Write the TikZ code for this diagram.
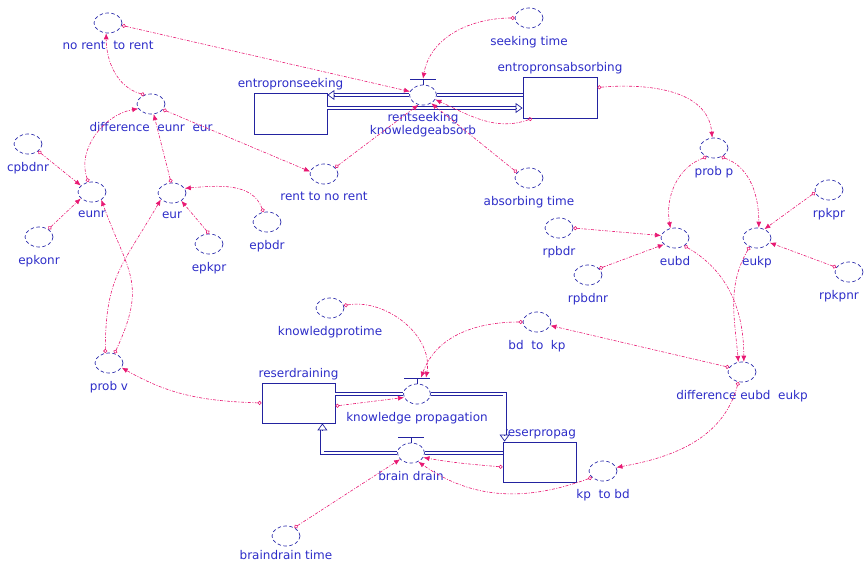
\documentclass[tikz,border=0pt]{standalone}
\usepackage{fontspec}
\setmainfont{DejaVu Sans}
\usepackage{xcolor}
\usepackage{tikz}
\usetikzlibrary{shapes.geometric, arrows.meta, calc}

\definecolor{txtblue}{RGB}{45,45,200}
\definecolor{boxblue}{RGB}{35,35,160}
\definecolor{auxblue}{RGB}{40,40,170}
\definecolor{linkpink}{RGB}{232,25,115}

\begin{document}
\begin{tikzpicture}[x=1pt, y=1pt, >=Latex]
        \tikzstyle{lbl} = [text=txtblue, font=\fontsize{12}{12.5}\selectfont, inner sep=0pt, align=center]
        \tikzstyle{auxlbl} = [lbl, yshift=-8pt]
        \tikzstyle{stocklbl} = [lbl, yshift=2.5pt]
        \tikzstyle{aux} = [ellipse, draw=auxblue, dash pattern=on 3.5pt off 2.5pt, line width=0.7pt, fill=white, minimum width=28pt, minimum height=20pt, inner sep=0pt]
        \tikzstyle{valve} = [aux, minimum width=27pt]
        \tikzstyle{stock} = [draw=boxblue, rectangle, line width=0.8pt, fill=white, minimum width=73pt, minimum height=40pt, inner sep=0pt]
        \tikzstyle{pipe} = [draw=boxblue, line width=0.7pt, double=white, double distance=2.5pt]
        \tikzstyle{pipetip} = [draw=boxblue, line width=0.7pt, -{Triangle[open, length=7pt, width=10pt]}]
        \tikzstyle{conn} = [draw=linkpink, line width=0.6pt, dash pattern=on 3pt off 1.5pt on 1pt off 1.5pt, {Circle[open, length=4pt]}-{Latex[length=6pt, width=5pt]}]

        \useasboundingbox (0,0) rectangle (865,-563);

        % --- 存量 ---
        \node [stock, minimum height=41pt, label={[stocklbl]above:entropronseeking}] (seek) at (290.5,-113.5) {};
        \node [stock, minimum width=74pt, minimum height=41pt, label={[stocklbl]above:entropronsabsorbing}] (absorb) at (560,-97.5) {};
        \node [stock, label={[stocklbl]above:reserdraining}] (rdrain) at (298.5,-403) {};
        \node [stock, label={[stocklbl]above:reserpropag}] (rprop) at (539.5,-462) {};

        % --- 流量阀 ---
        \node [valve, label={[auxlbl, yshift=1pt]below:rentseeking\\knowledgeabsorb}] (rkv) at (423,-95) {};
        \node [valve, label={[auxlbl]below:knowledge propagation}] (kpv) at (417,-394) {};
        \node [valve, label={[auxlbl]below:brain drain}] (bdv) at (411,-453) {};
        \foreach \v in {rkv, kpv, bdv} {
            \draw [boxblue, line width=0.7pt] (\v.north) -- ++(0,5);
            \draw [boxblue, line width=1.3pt] ([xshift=-13pt, yshift=5pt]\v.north) -- ([xshift=13pt, yshift=5pt]\v.north);
        }

        % --- 辅助变量 (左上) ---
        \node [aux, label={[auxlbl]below:no rent~ to rent}] (nrtr) at (108,-23) {};
        \node [aux, label={[auxlbl]below:difference~ eunr~ eur}] (dee) at (151,-104) {};
        \node [aux, label={[auxlbl]below:cpbdnr}] (cpbdnr) at (28,-144) {};
        \node [aux, label={[auxlbl]below:eunr}] (eunr) at (92,-192) {};
        \node [aux, label={[auxlbl]below:eur}] (eur) at (172,-193) {};
        \node [aux, label={[auxlbl]below:epkonr}] (epkonr) at (39,-237) {};
        \node [aux, label={[auxlbl]below:epkpr}] (epkpr) at (209,-244) {};
        \node [aux, label={[auxlbl]below:epbdr}] (epbdr) at (267,-222) {};
        \node [aux, label={[auxlbl]below:prob v}] (probv) at (109,-363) {};
        \node [aux, label={[auxlbl]below:rent to no rent}] (rtnr) at (324,-174) {};
        \node [aux, label={[auxlbl]below:seeking time}] (seektime) at (529,-18) {};
        \node [aux, label={[auxlbl]below:absorbing time}] (abstime) at (529,-178) {};

        % --- 辅助变量 (右侧) ---
        \node [aux, label={[auxlbl]below:prob p}] (probp) at (714,-148) {};
        \node [aux, label={[auxlbl]below:rpbdr}] (rpbdr) at (559,-228) {};
        \node [aux, label={[auxlbl]below:eubd}] (eubd) at (675,-238) {};
        \node [aux, label={[auxlbl]below:eukp}] (eukp) at (757,-238) {};
        \node [aux, label={[auxlbl]below:rpkpr}] (rpkpr) at (829,-190) {};
        \node [aux, label={[auxlbl]below:rpbdnr}] (rpbdnr) at (588,-275) {};
        \node [aux, label={[auxlbl, xshift=-10pt]below:rpkpnr}] (rpkpnr) at (849,-272) {};
        \node [aux, label={[auxlbl]below:bd~ to~ kp}] (bdkp) at (537,-322) {};
        \node [aux, label={[auxlbl]below:difference eubd~ eukp}] (deb) at (742,-372) {};
        \node [aux, label={[auxlbl]below:kp~ to bd}] (kpbd) at (603,-471) {};
        \node [aux, label={[auxlbl]below:knowledgprotime}] (kptime) at (330,-308) {};
        \node [aux, label={[auxlbl, yshift=4pt]below:braindrain time}] (bdtime) at (286,-536) {};

        % --- 管道 ---
        \draw [pipe] (absorb.west |- rkv) -- (rkv.east);
        \draw [pipe] (rkv.west) -- ([xshift=7pt]seek.east |- rkv);
        \draw [pipetip] ([xshift=7pt]seek.east |- rkv) -- (seek.east |- rkv);
        \draw [pipe] ([yshift=5.5pt]seek.east) -- ([xshift=-7pt, yshift=-10.5pt]absorb.west);
        \draw [pipetip] ([xshift=-7pt, yshift=-10.5pt]absorb.west) -- ([yshift=-10.5pt]absorb.west);

        \draw [pipe] (rdrain.east |- kpv) -- (kpv.west);
        \draw [pipe] (kpv.east) -| ([xshift=2pt, yshift=7pt]rprop.north west);
        \draw [pipetip] ([xshift=2pt, yshift=7pt]rprop.north west) -- ([xshift=2pt]rprop.north west);

        \draw [pipe] (rprop.west |- bdv) -- (bdv.east);
        \draw [pipe] (bdv.west) -| ([xshift=-13pt, yshift=-7pt]rdrain.south east);
        \draw [pipetip] ([xshift=-13pt, yshift=-7pt]rdrain.south east) -- ([xshift=-13pt]rdrain.south east);

        % --- 连接线: 租金寻求 ---
        \draw [conn] (nrtr.-10) -- (rkv.165);
        \draw [conn] (dee.125) to[out=165, in=-90] (nrtr.-100);
        \draw [conn] (dee.-25) -- (rtnr.170);
        \draw [conn] (rtnr.30) -- (rkv.-115);
        \draw [conn] (seektime.west) to[out=180, in=80] ([yshift=6pt]rkv.north);
        \draw [conn] (abstime.155) -- (rkv.-45);
        \draw [conn] ([xshift=-28pt]absorb.south) to[out=-160, in=-25] (rkv.-20);
        \draw [conn] ([yshift=10pt]absorb.east) to[out=5, in=95] (probp.100);

        % --- 连接线: eunr / eur ---
        \draw [conn] (cpbdnr.-35) -- (eunr.150);
        \draw [conn] (epkonr.40) -- (eunr.-150);
        \draw [conn] (eunr.110) to[out=110, in=190] (dee.-160);
        \draw [conn] (eur.95) -- (dee.-75);
        \draw [conn] (epkpr.90) -- (eur.-40);
        \draw [conn] (epbdr.110) to[out=110, in=5] (eur.20);
        \draw [conn] (probv.110) to[out=90, in=-120, looseness=1.2] (eur.-150);
        \draw [conn] (probv.60) to[out=65, in=-70, looseness=1.3] (eunr.-40);
        \draw [conn] (rdrain.west) to[out=178, in=-30] (probv.-20);

        % --- 连接线: eubd / eukp ---
        \draw [conn] (probp.-130) to[out=200, in=100] (eubd.115);
        \draw [conn] (probp.-50) to[out=-20, in=90] (eukp.80);
        \draw [conn] (rpbdr.east) -- (eubd.170);
        \draw [conn] (rpbdnr.30) -- (eubd.-150);
        \draw [conn] (rpkpr.190) -- (eukp.50);
        \draw [conn] (rpkpnr.160) -- (eukp.-20);
        \draw [conn] (eubd.-40) to[out=-30, in=90] (deb.80);
        \draw [conn] (eukp.-130) to[out=-120, in=95] (deb.110);
        \draw [conn] (deb.160) -- (bdkp.-15);
        \draw [conn] (deb.-110) to[out=-105, in=10] (kpbd.15);

        % --- 连接线: 知识传播 / 人才流失 ---
        \draw [conn] (bdkp.west) to[out=180, in=70] ([xshift=4pt, yshift=6pt]kpv.north);
        \draw [conn] (kptime.10) to[out=10, in=80] ([xshift=9pt, yshift=6pt]kpv.north);
        \draw [conn] ([yshift=-3pt]rdrain.east) -- (kpv.-165);
        \draw [conn] ([yshift=-5pt]rprop.west) to[out=175, in=-10] (bdv.-20);
        \draw [conn] (kpbd.-150) to[out=200, in=-35] (bdv.-50);
        \draw [conn] (bdtime.45) -- (bdv.-150);

\end{tikzpicture}
\end{document}
